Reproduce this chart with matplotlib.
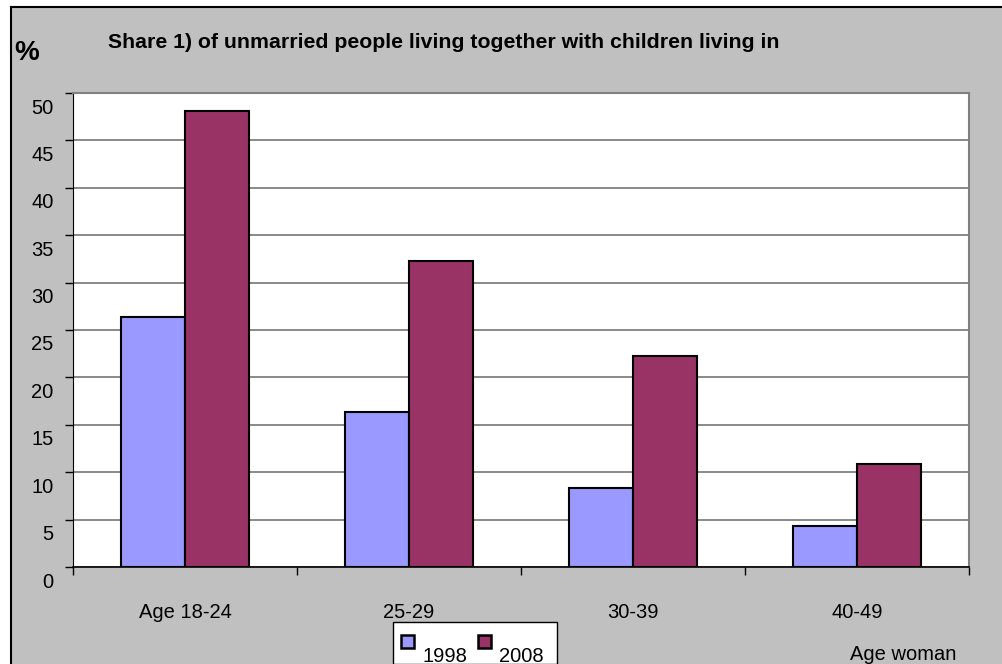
import matplotlib.pyplot as plt
import matplotlib.transforms as mtrans
import numpy as np
from matplotlib.patches import Rectangle
from matplotlib.lines import Line2D

categories = ["Age 18-24", "25-29", "30-39", "40-49"]
share_1998 = [26.4, 16.4, 8.3, 4.3]
share_2008 = [48.1, 32.3, 22.3, 10.9]
series_names = ["1998", "2008"]
yticks = [0, 5, 10, 15, 20, 25, 30, 35, 40, 45, 50]

W, H = 1003, 664
fig = plt.figure(figsize=(W / 100, H / 100), dpi=100)
fig.patch.set_facecolor("white")
plt.rcParams["font.family"] = ["Liberation Sans", "DejaVu Sans"]


def fx(px):
    return px / W


def fy(py):
    return 1 - py / H


# grey chart area with black border on left and top
fig.patches.append(Rectangle((fx(11), 0), 1 - fx(11), fy(7), transform=fig.transFigure,
                             facecolor="#C0C0C0", edgecolor="none", zorder=-5))
fig.lines.append(Line2D([fx(11), fx(11)], [0, fy(7)], transform=fig.transFigure, color="black", lw=1.5))
fig.lines.append(Line2D([fx(11), 1], [fy(7), fy(7)], transform=fig.transFigure, color="black", lw=1.5))

ax = fig.add_axes([fx(73), fy(567), fx(969) - fx(73), fy(93) - fy(567)])
ax.set_zorder(2)
ax.set_facecolor("white")

x = np.arange(len(categories))
w = 0.2857
ax.bar(x - w / 2, share_1998, w, color="#9999FF", edgecolor="black", lw=1.5, zorder=3)
ax.bar(x + w / 2, share_2008, w, color="#993366", edgecolor="black", lw=1.5, zorder=3)

ax.set_xlim(-0.5, len(categories) - 0.5)
ax.set_ylim(0, 50)
ax.set_yticks(yticks)
ax.yaxis.grid(True, color="#808080", lw=1.3, zorder=0)
ax.set_axisbelow(True)
ax.tick_params(axis="y", direction="out", length=6, width=1, labelsize=14.5, pad=8)
# Excel-style: value labels sit a bit below their tick
shift = mtrans.ScaledTranslation(0, -13 / 100, fig.dpi_scale_trans)
for lab in ax.get_yticklabels():
    lab.set_transform(lab.get_transform() + shift)

ax.set_xticks(x)
ax.set_xticklabels(categories, fontsize=14.5)
ax.set_xticks(np.arange(-0.5, len(categories)), minor=True)
ax.tick_params(axis="x", which="major", length=0, pad=26)
ax.tick_params(axis="x", which="minor", direction="out", length=6, width=1)

for s in ["top", "right"]:
    ax.spines[s].set_color("#808080")
    ax.spines[s].set_linewidth(1.5)
ax.spines["left"].set_color("black")
ax.spines["bottom"].set_color("black")
ax.spines["bottom"].set_linewidth(1.2)

fig.text(fx(14), fy(60), "%", fontsize=20, fontweight="bold", va="baseline", ha="left")
fig.text(fx(108), fy(48), "Share 1) of unmarried people living together with children living in",
         fontsize=15.3, fontweight="bold", va="baseline", ha="left")
fig.text(fx(850), fy(655), "Age woman", fontsize=14.5, va="center", ha="left")

# legend box (cut off at bottom)
fig.patches.append(Rectangle((fx(393), 0), fx(557) - fx(393), fy(622), transform=fig.transFigure,
                             facecolor="white", edgecolor="black", lw=1, zorder=5))
for mx, tx, col, name in [(401, 423, "#9999FF", series_names[0]), (478, 499, "#993366", series_names[1])]:
    fig.patches.append(Rectangle((fx(mx), fy(648)), fx(13), fy(635) - fy(648), transform=fig.transFigure,
                                 facecolor=col, edgecolor="black", lw=1.8, zorder=6))
    fig.text(fx(tx), fy(656), name, fontsize=14.5, va="center", ha="left", zorder=7)

fig.savefig("out.png", dpi=100, facecolor=fig.get_facecolor())
